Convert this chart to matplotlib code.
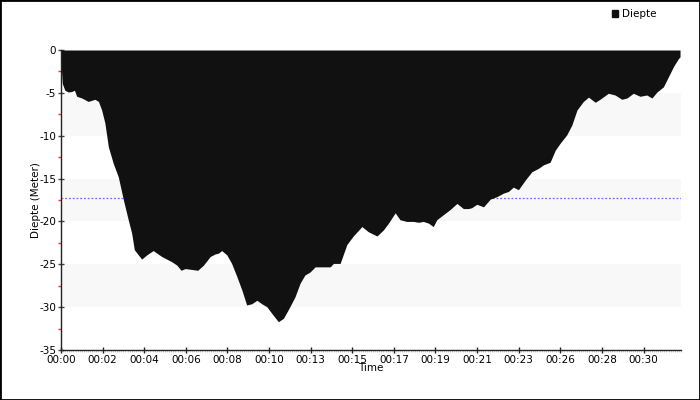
import numpy as np
import matplotlib
matplotlib.use("Agg")
import matplotlib.pyplot as plt
from matplotlib.patches import Rectangle, Patch
from matplotlib.ticker import MultipleLocator, FuncFormatter

plt.rcParams['axes.unicode_minus'] = False
plt.rcParams['font.family'] = ['DejaVu Sans']

# Dive profile: time in seconds, depth in meters.
time_s = [0, 4, 12, 23, 33, 42, 49, 65, 85, 106, 117, 127, 137, 148, 163, 179,
          195, 210, 221, 229, 252, 268, 288, 315, 346, 362, 375, 388, 408, 427,
          445, 466, 481, 492, 502, 518, 533, 549, 565, 580, 596, 612, 627, 643,
          658, 679, 695, 710, 731, 747, 762, 778, 794, 841, 851, 872, 893, 913,
          940, 960, 987, 1007, 1023, 1044, 1059, 1080, 1101, 1117, 1132, 1148,
          1163, 1174, 1195, 1216, 1237, 1257, 1273, 1283, 1299, 1320, 1341,
          1362, 1382, 1398, 1413, 1429, 1450, 1471, 1492, 1507, 1528, 1544,
          1559, 1580, 1596, 1612, 1632, 1648, 1669, 1684, 1710, 1731, 1752,
          1768, 1788, 1809, 1830, 1846, 1862, 1882, 1898, 1914, 1929, 1934]
depth_m = [-1.5, -3.9, -4.7, -4.9, -4.85, -4.7, -5.4, -5.6, -6.0, -5.75, -6.0,
           -7.0, -8.5, -11.3, -13.2, -14.8, -17.5, -19.8, -21.4, -23.3, -24.4,
           -23.9, -23.4, -24.1, -24.7, -25.1, -25.7, -25.5, -25.6, -25.7, -25.1,
           -24.1, -23.8, -23.7, -23.4, -23.9, -24.9, -26.4, -28.0, -29.75, -29.6,
           -29.2, -29.6, -29.95, -30.7, -31.7, -31.3, -30.3, -28.8, -27.2,
           -26.25, -25.9, -25.3, -25.3, -24.9, -24.9, -22.7, -21.7, -20.6,
           -21.2, -21.7, -21.0, -20.2, -19.0, -19.8, -20.0, -20.0, -20.1, -20.0,
           -20.2, -20.6, -19.8, -19.2, -18.6, -17.9, -18.5, -18.5, -18.4, -18.0,
           -18.3, -17.4, -17.1, -16.7, -16.5, -16.0, -16.3, -15.2, -14.2, -13.8,
           -13.4, -13.1, -11.7, -10.9, -9.9, -8.75, -7.0, -6.0, -5.5, -6.1,
           -5.75, -5.05, -5.25, -5.75, -5.6, -5.05, -5.4, -5.25, -5.6, -4.9,
           -4.3, -3.1, -1.9, -1.0, -0.8]
avg_depth = -17.3
bands = [(-10, -5), (-20, -15), (-30, -25)]
series_name = "Diepte"

fig = plt.figure(figsize=(7, 4), dpi=100)
ax = fig.add_axes([61/700, 50/400, 620/700, 300/400])

# Alternating background bands.
for lo, hi in bands:
    ax.axhspan(lo, hi, color='#f8f8f8', zorder=0, lw=0)

ax.axhline(avg_depth, color='#6b6bff', lw=0.9, ls=(0, (1.5, 1.5)), zorder=1)
ax.fill_between(time_s, depth_m, 0, color='#111111', lw=0, zorder=2,
                label=series_name)

ax.set_xlim(0, 1937)
ax.set_ylim(-35, 0)

# Axis styling.
for side in ['top', 'right']:
    ax.spines[side].set_visible(False)
for side in ['left', 'bottom']:
    ax.spines[side].set_color('#222222')
    ax.spines[side].set_linewidth(1)

ax.xaxis.set_major_locator(MultipleLocator(130))
ax.xaxis.set_minor_locator(MultipleLocator(6.5))
ax.xaxis.set_major_formatter(FuncFormatter(lambda v, p: f"00:{int(v // 60):02d}"))
ax.yaxis.set_major_locator(MultipleLocator(5))
ax.yaxis.set_minor_locator(MultipleLocator(2.5))
ax.yaxis.set_major_formatter(FuncFormatter(lambda v, p: f"{int(round(v))}"))

ax.tick_params(axis='x', which='major', direction='inout', length=5, width=1,
               color='#222222', labelsize=7.5, pad=1)
ax.tick_params(axis='x', which='minor', direction='out', length=1.5, width=0.4,
               color='#aaaaaa')
ax.tick_params(axis='y', which='major', direction='inout', length=5, width=1,
               color='#444444', labelsize=7.5, pad=1)
ax.tick_params(axis='y', which='minor', direction='out', length=2.5, width=1,
               color='#ff3030')

ax.set_xlabel("Time", fontsize=7.5, labelpad=-1)
ax.set_ylabel("Diepte (Meter)", fontsize=7.5, labelpad=-1)

leg = fig.legend(handles=[Patch(facecolor='#111111', edgecolor='#111111',
                                label=series_name)],
                 loc='center left', bbox_to_anchor=(607/700, 1 - 14/400),
                 frameon=False, fontsize=7.5, handlelength=0.6,
                 handleheight=0.6, handletextpad=0.3, borderpad=0)

# Outer frame.
fig.patches.append(Rectangle((0, 0), 1, 1, transform=fig.transFigure,
                             fill=False, edgecolor='black', lw=2))

fig.savefig("out.png", dpi=100)
